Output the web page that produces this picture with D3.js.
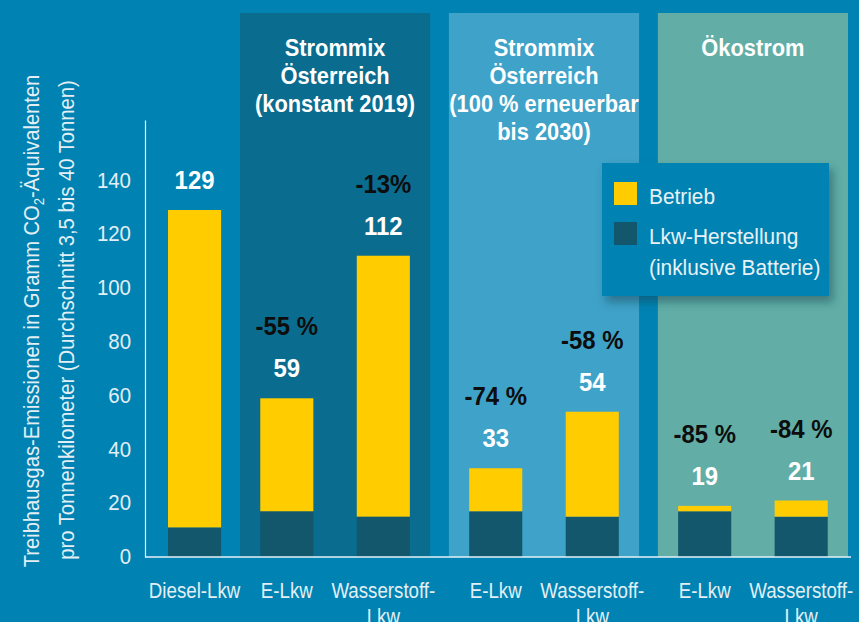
<!DOCTYPE html>
<html>
<head>
<meta charset="utf-8">
<script src="https://d3js.org/d3.v7.min.js"></script>
<style>
  body { margin: 0; background: #0083b2; }
  svg { display: block; }
  text { font-family: 'Liberation Sans', Arial, sans-serif; }
</style>
</head>
<body>
<svg id="drawing_region"></svg>
<script>
// values
const categories = ['Diesel-Lkw', 'E-Lkw', 'Wasserstoff-Lkw', 'E-Lkw', 'Wasserstoff-Lkw', 'E-Lkw', 'Wasserstoff-Lkw'];
const groups = ['diesel', 'mix2019', 'mix2019', 'mix2030', 'mix2030', 'oeko', 'oeko'];
const herstellung = [11, 17, 15, 17, 15, 17, 15];
const betrieb = [118, 42, 97, 16, 39, 2, 6];
const totals = [129, 59, 112, 33, 54, 19, 21];
const changes = ['', '-55 %', '-13%', '-74 %', '-58 %', '-85 %', '-84 %'];
const yTicks = [0, 20, 40, 60, 80, 100, 120, 140];
const panelKeys = ['mix2019', 'mix2030', 'oeko'];
const panelTitles = [
    ['Strommix', 'Österreich', '(konstant 2019)'],
    ['Strommix', 'Österreich', '(100 % erneuerbar', 'bis 2030)'],
    ['Ökostrom']
];
const panelColors = ['#0a6c8f', '#3fa2c8', '#62aea6'];
const seriesNames = ['Betrieb', 'Lkw-Herstellung'];
const seriesColors = ['#ffcc00', '#12576c'];

const config = {
    width: 859,
    height: 622,
    baseline: 557,
    axisX: 145,
    panelLeft: 240,
    right: 848
};
const light = '#e3eff5';

const svg = d3.select('#drawing_region')
    .attr('width', config.width)
    .attr('height', config.height);

svg.append('rect')
    .attr('width', config.width)
    .attr('height', config.height)
    .attr('fill', '#0083b2');

svg.append('defs').append('filter')
    .attr('id', 'shadow')
    .attr('x', '-20%').attr('y', '-20%')
    .attr('width', '150%').attr('height', '150%')
    .append('feDropShadow')
    .attr('dx', 4).attr('dy', 6)
    .attr('stdDeviation', 5)
    .attr('flood-color', '#0b3f52')
    .attr('flood-opacity', 0.5);

// narrow text: the reference uses a condensed face, so squeeze horizontally
function squeezed(parent, x, y, sx, lines, lineHeight) {
    const t = parent.append('text')
        .attr('transform', `translate(${x}, ${y}) scale(${sx}, 1)`);
    lines.forEach((line, n) => {
        t.append('tspan')
            .attr('x', 0)
            .attr('dy', n === 0 ? 0 : lineHeight)
            .text(line);
    });
    return t;
}

// scales
const yscale = d3.scaleLinear()
    .domain([0, 162.5])
    .range([config.baseline, config.baseline - 162.5 * 2.69]);

const panelScale = d3.scaleBand()
    .domain(panelKeys)
    .range([config.panelLeft, config.right])
    .paddingInner(0.09);

const innerScale = d3.scaleBand()
    .domain(['E-Lkw', 'Wasserstoff-Lkw'])
    .range([0, panelScale.bandwidth()])
    .paddingInner(0.45)
    .paddingOuter(0.21);

const dieselScale = d3.scaleBand()
    .domain(['Diesel-Lkw'])
    .range([config.axisX, config.panelLeft])
    .padding(0.284);

const xpos = i => groups[i] === 'diesel'
    ? dieselScale(categories[i]) + 2
    : panelScale(groups[i]) + innerScale(categories[i]);
const bw = innerScale.bandwidth();
const xcenter = i => xpos(i) + bw / 2;

// background panels
const panels = svg.append('g');
panelKeys.forEach((k, j) => {
    panels.append('rect')
        .attr('x', panelScale(k))
        .attr('y', 13)
        .attr('width', panelScale.bandwidth())
        .attr('height', config.baseline - 13)
        .attr('fill', panelColors[j]);
    squeezed(panels, panelScale(k) + panelScale.bandwidth() / 2, 56, 0.91, panelTitles[j], 28)
        .attr('text-anchor', 'middle')
        .attr('fill', '#fff')
        .attr('font-size', '24px')
        .attr('font-weight', 'bold');
});

// bars
const chart = svg.append('g');
const stackData = categories.map((c, i) => [herstellung[i], betrieb[i]]);
stackData.forEach((d, i) => {
    chart.append('rect')
        .attr('x', xpos(i))
        .attr('y', yscale(d[0]))
        .attr('width', bw)
        .attr('height', yscale(0) - yscale(d[0]))
        .attr('fill', seriesColors[1]);
    chart.append('rect')
        .attr('x', xpos(i))
        .attr('y', yscale(d[0] + d[1]))
        .attr('width', bw)
        .attr('height', yscale(d[0]) - yscale(d[0] + d[1]))
        .attr('fill', seriesColors[0]);
});

// value labels
totals.forEach((v, i) => {
    const top = yscale(herstellung[i] + betrieb[i]);
    squeezed(chart, xcenter(i), top - 21, 0.92, [String(v)], 0)
        .attr('text-anchor', 'middle')
        .attr('fill', '#fff')
        .attr('font-size', '26px')
        .attr('font-weight', 'bold');
    if (changes[i]) {
        squeezed(chart, xcenter(i), top - 63, 0.92, [changes[i]], 0)
            .attr('text-anchor', 'middle')
            .attr('fill', '#0d0d0d')
            .attr('font-size', '26px')
            .attr('font-weight', 'bold');
    }
});

// axes
const yaxis = d3.axisLeft(yscale)
    .tickValues(yTicks)
    .tickSize(0)
    .tickSizeOuter(0)
    .tickPadding(14);

const yaxisGroup = svg.append('g')
    .attr('transform', `translate(${config.axisX}, 0)`)
    .call(yaxis);
yaxisGroup.select('.domain').attr('stroke', '#e6f2f7').attr('stroke-width', 1.2);
yaxisGroup.selectAll('.tick text')
    .attr('fill', light)
    .attr('font-size', '22px')
    .attr('dy', '0.3em')
    .style('font-family', null)
    .attr('transform', 'scale(0.93, 1)')
    .attr('x', -14 / 0.93);

svg.append('line')
    .attr('x1', config.axisX)
    .attr('x2', config.right + 3)
    .attr('y1', config.baseline)
    .attr('y2', config.baseline)
    .attr('stroke', '#e6f2f7')
    .attr('stroke-width', 1.5);

// x labels
categories.forEach((c, i) => {
    const parts = c === 'Wasserstoff-Lkw' ? ['Wasserstoff-', 'Lkw'] : [c];
    squeezed(svg, xcenter(i), 598, 0.87, parts, 26)
        .attr('text-anchor', 'middle')
        .attr('fill', light)
        .attr('font-size', '21.5px');
});

// y axis title, fitted to the length it has in the reference
const title1 = svg.append('text')
    .attr('text-anchor', 'middle')
    .attr('fill', light)
    .attr('font-size', '21.5px');
title1.append('tspan').text('Treibhausgas-Emissionen in Gramm CO');
title1.append('tspan').attr('font-size', '14px').attr('dy', 5).text('2');
title1.append('tspan').attr('dy', -5).text('-Äquivalenten');
const title2 = svg.append('text')
    .attr('text-anchor', 'middle')
    .attr('fill', light)
    .attr('font-size', '21.5px')
    .text('pro Tonnenkilometer (Durchschnitt 3,5 bis 40 Tonnen)');
[[title1, 39, 321, 493], [title2, 74, 320, 480]].forEach(([t, x, y, len]) => {
    const s = len / t.node().getComputedTextLength();
    t.attr('transform', `translate(${x}, ${y}) rotate(-90) scale(${s}, 1)`);
});

// legend
const legend = svg.append('g').attr('transform', 'translate(602, 163)');
legend.append('rect')
    .attr('width', 227)
    .attr('height', 133)
    .attr('fill', '#0083b2')
    .attr('filter', 'url(#shadow)');
const legendLines = [['Betrieb'], ['Lkw-Herstellung', '(inklusive Batterie)']];
seriesNames.forEach((s, j) => {
    legend.append('rect')
        .attr('x', 12)
        .attr('y', 19 + j * 40)
        .attr('width', 23)
        .attr('height', 23)
        .attr('fill', seriesColors[j]);
    squeezed(legend, 47, 41 + j * 40, 0.97, legendLines[j], 31)
        .attr('fill', '#e8f2f7')
        .attr('font-size', '21.5px');
});
</script>
</body>
</html>
